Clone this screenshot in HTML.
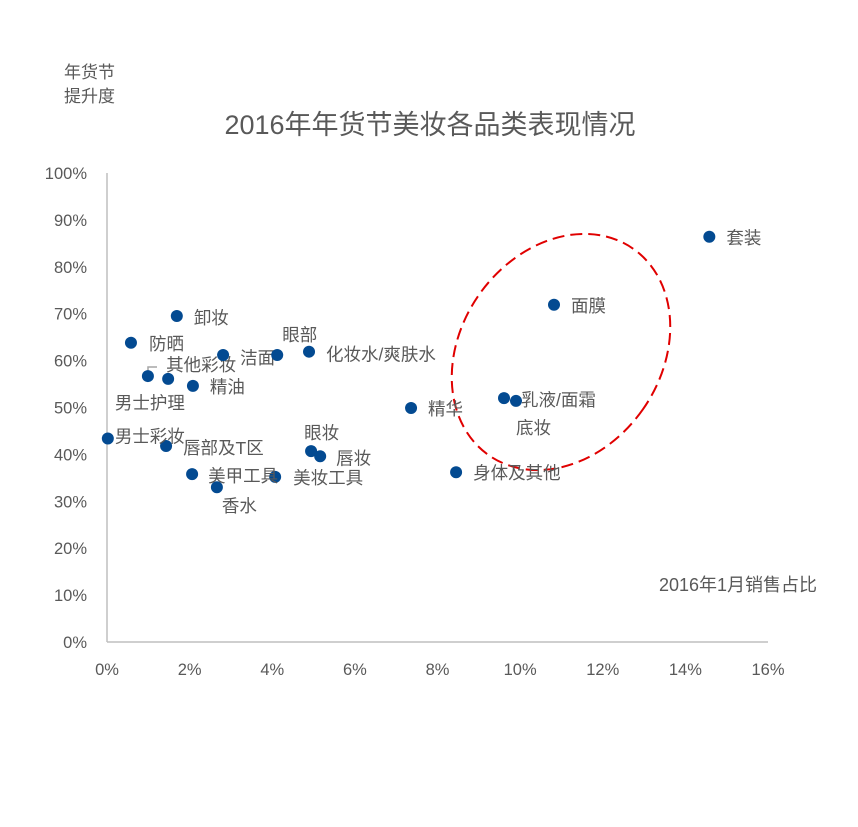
<!DOCTYPE html>
<html><head><meta charset="utf-8"><style>
body{margin:0;background:#fff;}
svg text{font-family:"Liberation Sans","Noto Sans CJK SC",sans-serif;fill:#595959;}
</style></head><body>
<svg id="chart" width="858" height="822" xmlns="http://www.w3.org/2000/svg"></svg>
<script>
const categories=["套装","面膜","乳液/面霜","底妆","精华","身体及其他","眼妆","唇妆","美妆工具","香水","美甲工具","唇部及T区","男士彩妆","男士护理","其他彩妆","精油","洁面","眼部","化妆水/爽肤水","防晒","卸妆"];
const salesShare=[14.58,10.82,9.61,9.9,7.36,8.45,4.94,5.16,4.07,2.66,2.06,1.43,0.02,0.99,1.48,2.08,2.81,4.12,4.89,0.58,1.69];
const liftPct=[86.4,71.9,52.0,51.4,49.9,36.2,40.7,39.6,35.2,33.0,35.8,41.8,43.4,56.7,56.1,54.6,61.2,61.2,61.9,63.8,69.5];
const xTicks=[0,2,4,6,8,10,12,14,16];
const yTicks=[0,10,20,30,40,50,60,70,80,90,100];
const labelOff=[[17,1],[17,1],[17,2],[0,27],[17,1],[17,1],[-7,-18],[16,2],[18,1],[5,19],[16,2],[17,2],[7,-2],[-33,27],[-2,-14],[17,1],[17,3],[5,-20],[17,3],[18,1],[17,2]];
const X0=107,X1=768,Y0=642,Y1=173;
const sx=v=>X0+(v-0)/16*(X1-X0);
const sy=v=>Y0-(v-0)/100*(Y0-Y1);
const svg=document.getElementById('chart');
const NS='http://www.w3.org/2000/svg';
function mk(tag,attrs,txt){const e=document.createElementNS(NS,tag);for(const k in attrs)e.setAttribute(k,attrs[k]);if(txt!=null)e.textContent=txt;svg.appendChild(e);return e;}
let t=mk('text',{x:430,y:134,'font-size':27,'text-anchor':'middle'},'2016年年货节美妆各品类表现情况');


t=mk('text',{x:64,y:78,'font-size':17},'年货节');


t=mk('text',{x:64,y:102,'font-size':17},'提升度');


t=mk('text',{x:817,y:591,'font-size':18,'text-anchor':'end'},'2016年1月销售占比');


let a=mk('line',{x1:X0,y1:Y1,x2:X0,y2:Y0,stroke:'#bfbfbf','stroke-width':1.5});


a=mk('line',{x1:X0,y1:Y0,x2:X1,y2:Y0,stroke:'#bfbfbf','stroke-width':1.5});


yTicks.forEach(v=>{const e=mk('text',{x:87,y:sy(v)+6,'font-size':16.5,'text-anchor':'end'},v+'%');

});
xTicks.forEach(v=>{const e=mk('text',{x:sx(v),y:675,'font-size':16.5,'text-anchor':'middle'},v+'%');

});
const el=mk('ellipse',{cx:561,cy:352,rx:100,ry:126,transform:'rotate(35 561 352)',fill:'none',stroke:'#e00000','stroke-width':2,'stroke-dasharray':'12 6'});


const ld=mk('path',{d:'M148 373 V367 H157',fill:'none',stroke:'#a6a6a6','stroke-width':1.5});


categories.forEach((c,i)=>{
  const x=sx(salesShare[i]),y=sy(liftPct[i]);
  const p=mk('circle',{cx:x,cy:y,r:6,fill:'#034a91'});
  
  
  const l=mk('text',{x:x+labelOff[i][0],y:y+labelOff[i][1]+6,'font-size':17.5},c);
  
  
});
</script>
</body></html>
